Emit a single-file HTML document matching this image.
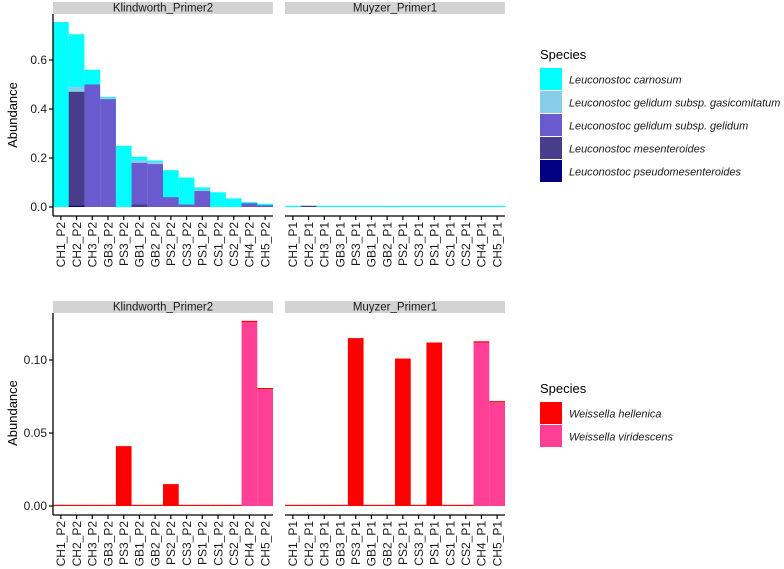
<!DOCTYPE html>
<html><head><meta charset="utf-8"><style>
body{margin:0;background:#fff;}
svg{display:block;font-family:"Liberation Sans",Arial,sans-serif;}
</style></head><body>
<svg id="chart" width="784" height="569"></svg>
<script>
const samplesK = ["CH1_P2","CH2_P2","CH3_P2","GB3_P2","PS3_P2","GB1_P2","GB2_P2","PS2_P2","CS3_P2","PS1_P2","CS1_P2","CS2_P2","CH4_P2","CH5_P2"];
const samplesM = ["CH1_P1","CH2_P1","CH3_P1","GB3_P1","PS3_P1","GB1_P1","GB2_P1","PS2_P1","CS3_P1","PS1_P1","CS1_P1","CS2_P1","CH4_P1","CH5_P1"];
const leuSpecies = ["Leuconostoc carnosum","Leuconostoc gelidum subsp. gasicomitatum","Leuconostoc gelidum subsp. gelidum","Leuconostoc mesenteroides","Leuconostoc pseudomesenteroides"];
const leuColors = ["#00ffff","#87ceeb","#6a5acd","#483d8b","#000080"];
const leuK_carnosum = [0.755,0.705,0.56,0.45,0.25,0.205,0.19,0.15,0.12,0.08,0.06,0.035,0.02,0.013];
const leuK_gasico = [0,0.49,0,0.447,0,0.19,0.185,0,0,0.07,0,0,0,0];
const leuK_gelidum = [0,0,0.50,0.44,0,0.18,0.175,0.04,0.01,0.065,0,0,0.015,0.007];
const leuK_mesent = [0,0.47,0,0,0,0.01,0,0,0,0,0,0,0,0];
const leuK_pseudo = [0,0.003,0,0,0,0,0,0,0,0,0,0,0,0];
const leuM_carnosum = [0.003,0.003,0.003,0.003,0.003,0.003,0.003,0.003,0.003,0.003,0.003,0.003,0.003,0.003];
const leuM_mesent = [0,0.001,0,0,0,0,0,0,0,0,0,0,0,0];
const leuTicks = [0,0.2,0.4,0.6];
const leuTickLabels = ["0.0","0.2","0.4","0.6"];
const weiSpecies = ["Weissella hellenica","Weissella viridescens"];
const weiColors = ["#ff0000","#ff3e96"];
const weiK_hellenica = [0.0003,0.0003,0.0003,0.0003,0.041,0.0003,0.0004,0.015,0.0003,0.0008,0.0003,0.0003,0.0003,0.0003];
const weiK_viridescens = [0,0,0,0,0,0,0,0,0,0,0,0,0.126,0.080];
const weiM_hellenica = [0.0003,0.0003,0.0003,0.0003,0.115,0.0003,0.0003,0.101,0.0003,0.112,0.0003,0.0003,0.0003,0.0003];
const weiM_viridescens = [0,0,0,0,0,0,0,0,0,0,0,0,0.112,0.071];
const weiTicks = [0,0.05,0.10];
const weiTickLabels = ["0.00","0.05","0.10"];

const NS="http://www.w3.org/2000/svg";
const svg=document.getElementById('chart');
function mk(tag,attrs,parent){const e=document.createElementNS(NS,tag);for(const k in attrs)e.setAttribute(k,attrs[k]);(parent||svg).appendChild(e);return e;}

function panel(x0,x1,yZero,scale,plotTop,axisY,cats,layers,colors,stacked,title,name){
  const g=mk('g',{});
  
  
  const strip=mk('rect',{x:x0,y:plotTop-12,width:x1-x0,height:12,fill:'#d3d3d3'},g);
  
  
  const st=mk('text',{x:(x0+x1)/2,y:plotTop-2.5,'text-anchor':'middle','font-size':'11.5',fill:'#1a1a1a'},g);
  st.textContent=title;
  
  
  const n=cats.length, w=(x1-x0)/n;
  const xs=i=>x0+i*w;
  const ys=v=>yZero-v*scale;
  const base=new Array(n).fill(0);
  layers.forEach((vals,li)=>{
    vals.forEach((v,i)=>{
      if(v<=0)return;
      const b=stacked?base[i]:0;
      const top=b+v;
      let y=ys(top),h=ys(b)-ys(top);
      if(h<1.2){h=1.2;y=ys(b)-1.2;}
      const r=mk('rect',{x:xs(i),y:y,width:w,height:h,fill:colors[li]},g);
      
      
      if(stacked)base[i]=top;
    });
  });
  const ax=mk('line',{x1:x0,x2:x1,y1:axisY,y2:axisY,stroke:'#000','stroke-width':1.3},g);
  
  
  cats.forEach((c,i)=>{
    const cx=xs(i)+w/2;
    mk('line',{x1:cx,x2:cx,y1:axisY,y2:axisY+4,stroke:'#000','stroke-width':1.2},g);
    const t=mk('text',{x:0,y:0,'text-anchor':'end','font-size':'12',fill:'#1a1a1a',transform:`translate(${cx+4.3},${axisY+6}) rotate(-90)`},g);
    t.textContent=c;
    
    
  });
  return ys;
}
function yAxis(x,yTop,yBot,ys,ticks,labels){
  const ax=mk('line',{x1:x,x2:x,y1:yTop,y2:yBot,stroke:'#000','stroke-width':1.3});
  
  
  ticks.forEach((t,i)=>{
    const y=ys(t);
    mk('line',{x1:x-4,x2:x,y1:y,y2:y,stroke:'#000','stroke-width':1.2});
    const l=mk('text',{x:x-6,y:y+4.2,'text-anchor':'end','font-size':'12',fill:'#1a1a1a'});
    l.textContent=labels[i];
    
    
  });
}
function yTitle(x,y){
  const t=mk('text',{x:0,y:0,'text-anchor':'middle','font-size':'13',fill:'#000',transform:`translate(${x},${y}) rotate(-90)`});
  t.textContent='Abundance';
  
  
}
function legend(x,y,species,colors,name){
  const g=mk('g',{});
  
  
  const t=mk('text',{x:x,y:y,'font-size':'13',fill:'#000'},g);
  t.textContent='Species';
  species.forEach((s,i)=>{
    const ky=y+9+i*23;
    const r=mk('rect',{x:x,y:ky,width:22,height:22,fill:colors[i]},g);
    
    
    const l=mk('text',{x:x+29,y:ky+15.5,'font-size':'10.9','font-style':'italic',fill:'#1a1a1a'},g);
    l.textContent=s;
    
    
  });
}
const topScale=245, topZero=207;
const ysT=panel(53,273,topZero,topScale,14,216,samplesK,[leuK_carnosum,leuK_gasico,leuK_gelidum,leuK_mesent,leuK_pseudo],leuColors,false,'Klindworth_Primer2','panel-top-klindworth');
panel(285,505,topZero,topScale,14,216,samplesM,[leuM_carnosum,new Array(14).fill(0),new Array(14).fill(0),leuM_mesent,new Array(14).fill(0)],leuColors,false,'Muyzer_Primer1','panel-top-muyzer');
yAxis(53,14,216,ysT,leuTicks,leuTickLabels);
yTitle(17,115);
legend(540,59,leuSpecies,leuColors,'legend-leuconostoc');
const botScale=1460, botZero=506;
const ysB=panel(53,273,botZero,botScale,313,515,samplesK,[weiK_viridescens,weiK_hellenica],[weiColors[1],weiColors[0]],true,'Klindworth_Primer2','panel-bottom-klindworth');
panel(285,505,botZero,botScale,313,515,samplesM,[weiM_viridescens,weiM_hellenica],[weiColors[1],weiColors[0]],true,'Muyzer_Primer1','panel-bottom-muyzer');
yAxis(53,313,515,ysB,weiTicks,weiTickLabels);
yTitle(17,413);
legend(540,393,weiSpecies,weiColors,'legend-weissella');
</script>
</body></html>
